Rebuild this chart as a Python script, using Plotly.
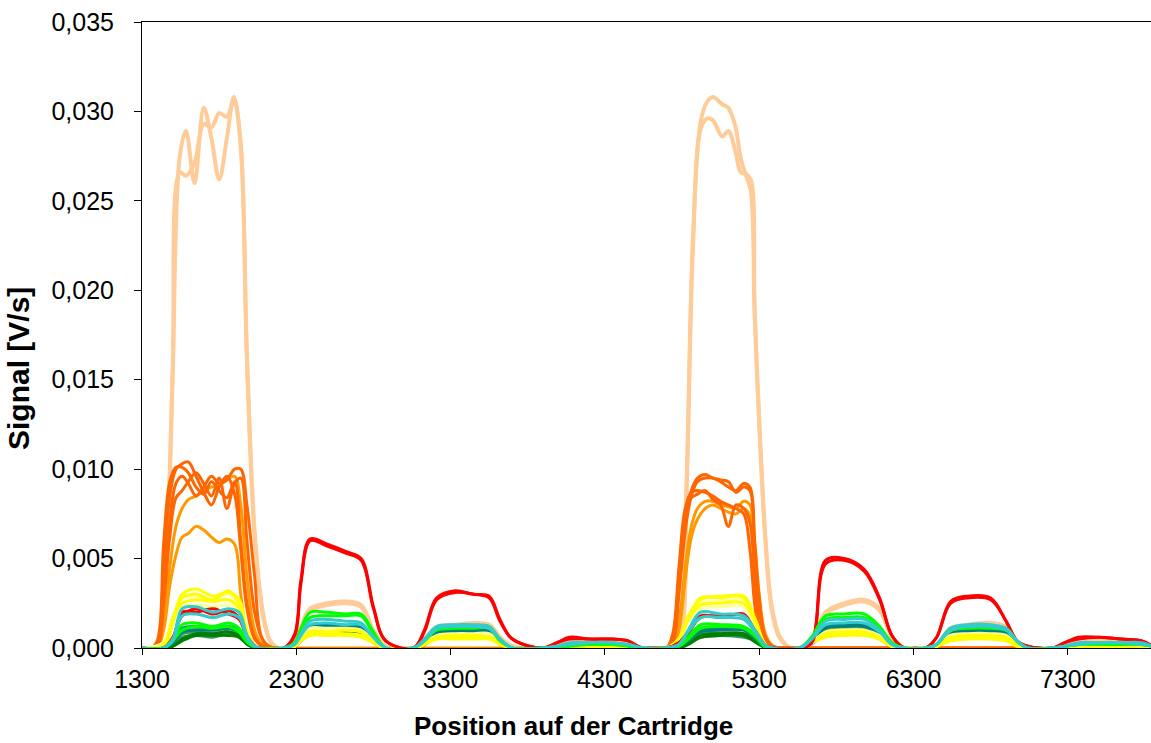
import plotly.graph_objects as go

# ---------------- data (signal values in units of 1e-4 V/s) ----------------
UNIT = 1e-4

# shared position grid for the low-level series (8 measuring spots)
X_LOW = [
    1300, 1440, 1500, 1560, 1650, 1760, 1860, 1930, 1985, 2050,
    2220, 2290, 2330, 2390, 2500, 2620, 2720, 2800, 2880,
    3060, 3130, 3210, 3330, 3450, 3550, 3620, 3700,
    3900, 3990, 4070, 4200, 4350, 4450, 4540,
    4700, 4780, 4840, 4920, 5050, 5200, 5280, 5350,
    5560, 5640, 5730, 5850, 5980, 6080, 6160, 6240,
    6380, 6450, 6540, 6650, 6800, 6900, 6970, 7040,
    7200, 7280, 7370, 7500, 7650, 7780, 7850]

X_PEACH = [
    1300, 1380, 1430, 1470, 1500, 1545, 1585, 1640, 1700, 1750, 1800, 1850, 1895, 1940, 1980, 2030, 2080, 2130, 2180,
    2220, 2290, 2330, 2390, 2500, 2620, 2720, 2800, 2880,
    3060, 3130, 3210, 3330, 3450, 3550, 3620, 3700,
    3900, 3990, 4070, 4200, 4350, 4450, 4540,
    4680, 4740, 4790, 4830, 4870, 4920, 4960, 5000, 5060, 5100, 5145, 5180, 5215, 5245, 5270, 5300, 5340, 5380, 5430, 5500,
    5560, 5640, 5730, 5850, 5980, 6080, 6160, 6240,
    6380, 6450, 6540, 6650, 6800, 6900, 6970, 7040,
    7200, 7280, 7370, 7500, 7650, 7780, 7850]

X_ORANGE = [
    1300, 1360, 1400, 1440, 1480, 1520, 1560, 1600, 1650, 1700, 1750, 1800, 1850, 1900, 1940, 1980, 2030, 2080, 2150,
    4650,
    4700, 4740, 4780, 4820, 4860, 4900, 4950, 5000, 5050, 5100, 5150, 5200, 5240, 5270, 5300, 5340, 5390, 5450,
    7850]

PEACH_A = [
    0, 1, 18, 75, 160, 275, 289, 260, 302, 285, 262, 285, 308, 282, 165, 65, 22, 4, 0,
    0, 3, 12, 22, 25, 26, 24, 10, 1,
    0, 5, 12, 13, 14, 13, 6, 1,
    0, 2, 4, 4, 4, 3, 0,
    0, 1, 8, 95, 228, 294, 305, 308, 304, 302, 292, 274, 264, 256, 188, 125, 60, 22, 6, 0,
    0, 4, 20, 25, 27, 22, 6, 0,
    0, 2, 11, 13, 14, 12, 4, 0,
    0, 1, 4, 4, 4, 3, 1]
PEACH_B = [
    0, 1, 14, 70, 155, 266, 264, 271, 293, 291, 299, 297, 306, 280, 160, 62, 20, 4, 0,
    0, 3, 11, 21, 24, 25, 23, 9, 1,
    0, 5, 11, 12, 13, 13, 6, 1,
    0, 2, 4, 4, 4, 3, 0,
    0, 1, 7, 90, 222, 290, 296, 295, 286, 289, 278, 266, 265, 262, 190, 128, 62, 24, 7, 0,
    0, 4, 19, 24, 26, 21, 6, 0,
    0, 2, 10, 12, 13, 12, 4, 0,
    0, 1, 3, 4, 4, 3, 1]

DORANGE_A = [0, 0, 4, 58, 93, 101, 101, 98, 90, 86, 93, 88, 84, 93, 60, 25, 6, 1, 0, 0,
             0, 5, 35, 70, 88, 95, 97, 95, 94, 93, 87, 90, 88, 55, 22, 5, 0, 0, 0]
DORANGE_B = [0, 0, 2, 45, 85, 100, 103, 104, 96, 87, 80, 90, 96, 86, 55, 22, 5, 1, 0, 0,
             0, 8, 45, 78, 87, 88, 87, 85, 82, 80, 78, 75, 55, 25, 8, 1, 0, 0, 0]
DORANGE_C = [0, 0, 1, 30, 70, 92, 96, 92, 85, 90, 96, 92, 94, 100, 100, 80, 40, 5, 0, 0,
             0, 3, 30, 65, 85, 93, 95, 95, 93, 90, 88, 92, 90, 60, 28, 6, 1, 0, 0]
DORANGE_D = [0, 0, 1, 25, 62, 84, 88, 93, 98, 92, 85, 95, 78, 92, 95, 60, 20, 5, 0, 0,
             0, 6, 40, 72, 84, 86, 88, 83, 80, 68, 80, 78, 70, 40, 12, 2, 0, 0, 0]
ORANGE_A = [0, 0, 1, 15, 45, 68, 78, 83, 85, 88, 90, 91, 94, 96, 80, 40, 10, 2, 0, 0,
            0, 2, 15, 45, 68, 78, 82, 82, 80, 79, 78, 82, 80, 60, 30, 8, 1, 0, 0]
ORANGE_B = [0, 0, 0, 10, 35, 52, 62, 64, 68, 66, 62, 59, 61, 58, 30, 8, 1, 0, 0, 0,
            0, 1, 10, 38, 62, 72, 78, 80, 78, 76, 75, 78, 74, 55, 25, 6, 1, 0, 0]

RED_A = [0, 0, 6, 18, 22, 19, 21, 17, 6, 0,
         0, 8, 38, 61, 58, 54, 50, 23, 4,
         0, 10, 28, 32, 30, 29, 16, 5,
         0, 3, 6, 5, 5, 4, 0,
         0, 3, 9, 17, 18, 18, 9, 1,
         0, 3, 49, 50, 44, 28, 7, 0,
         0, 6, 26, 29, 28, 15, 4, 1,
         0, 3, 6, 6, 5, 4, 1]
RED_B = [0, 0, 5, 20, 20, 22, 19, 16, 5, 0,
         0, 7, 36, 60, 57, 53, 49, 22, 4,
         0, 9, 27, 31, 30, 28, 15, 5,
         0, 3, 5, 5, 5, 4, 0,
         0, 3, 8, 18, 17, 19, 8, 1,
         0, 3, 47, 49, 43, 27, 7, 0,
         0, 6, 25, 28, 27, 15, 4, 1,
         0, 3, 5, 6, 5, 4, 1]

YELLOW_A = [0, 0, 14, 30, 33, 29, 31, 27, 9, 0,
            0, 1, 5, 9, 9, 10, 9, 4, 0,
            0, 3, 6, 7, 7, 6, 3, 0,
            0, 1, 2, 2, 2, 1, 0,
            0, 4, 16, 28, 28, 29, 14, 1,
            0, 3, 8, 9, 9, 6, 1, 0,
            0, 1, 6, 7, 7, 6, 2, 0,
            0, 0, 1, 1, 1, 1, 0]
YELLOW_B = [0, 1, 16, 28, 30, 27, 32, 25, 8, 0,
            0, 1, 4, 8, 8, 8, 7, 3, 0,
            0, 2, 5, 6, 6, 6, 3, 0,
            0, 0, 1, 1, 1, 1, 0,
            0, 5, 18, 27, 29, 28, 15, 1,
            0, 3, 7, 8, 8, 5, 1, 0,
            0, 1, 5, 6, 6, 5, 2, 0,
            0, 0, 1, 1, 1, 1, 0]
YELLOW_C = [0, 2, 17, 25, 27, 26, 27, 22, 7, 0,
            0, 1, 4, 7, 7, 7, 6, 3, 0,
            0, 2, 5, 5, 5, 5, 2, 0,
            0, 0, 1, 1, 1, 1, 0,
            0, 5, 16, 24, 25, 25, 13, 1,
            0, 3, 6, 7, 7, 5, 1, 0,
            0, 1, 4, 5, 5, 4, 1, 0,
            0, 0, 1, 1, 1, 1, 0]
LYELLOW_A = [0, 3, 18, 28, 29, 27, 30, 24, 8, 0,
             0, 1, 5, 11, 11, 11, 10, 4, 0,
             0, 3, 7, 8, 8, 8, 3, 0,
             0, 1, 2, 3, 3, 2, 0,
             0, 5, 17, 25, 26, 27, 14, 1,
             0, 3, 9, 10, 10, 7, 1, 0,
             0, 1, 7, 8, 8, 7, 2, 0,
             0, 0, 2, 2, 2, 2, 0]
LYELLOW_B = [0, 3, 16, 23, 24, 23, 24, 20, 7, 0,
             0, 1, 5, 10, 10, 10, 9, 4, 0,
             0, 3, 6, 7, 7, 7, 3, 0,
             0, 1, 2, 2, 2, 2, 0,
             0, 5, 15, 22, 23, 23, 12, 1,
             0, 3, 8, 9, 9, 6, 1, 0,
             0, 1, 6, 7, 7, 6, 2, 0,
             0, 0, 1, 2, 2, 1, 0]

CYAN_A = [0, 0, 5, 22, 23, 20, 22, 20, 6, 0,
          0, 2, 8, 15, 16, 15, 14, 6, 0,
          0, 5, 12, 13, 13, 12, 5, 0,
          0, 1, 3, 3, 3, 2, 0,
          0, 2, 10, 20, 19, 18, 9, 1,
          0, 5, 15, 16, 16, 10, 2, 0,
          0, 2, 11, 13, 13, 11, 4, 0,
          0, 1, 3, 3, 3, 3, 1]
CYAN_B = [0, 0, 4, 18, 19, 17, 19, 17, 5, 0,
          0, 2, 7, 13, 14, 13, 13, 6, 0,
          0, 4, 11, 12, 12, 11, 5, 0,
          0, 1, 2, 3, 3, 2, 0,
          0, 2, 9, 17, 17, 16, 8, 1,
          0, 5, 13, 14, 14, 9, 2, 0,
          0, 2, 10, 12, 12, 10, 4, 0,
          0, 1, 2, 3, 3, 2, 1]
GREEN_A = [0, 0, 5, 13, 14, 12, 14, 11, 3, 0,
           0, 3, 11, 20, 20, 19, 19, 9, 0,
           0, 4, 11, 12, 12, 12, 5, 0,
           0, 0, 2, 2, 2, 2, 0,
           0, 1, 6, 13, 13, 12, 7, 0,
           0, 6, 18, 19, 19, 12, 3, 0,
           0, 2, 11, 12, 12, 11, 4, 0,
           0, 1, 2, 2, 2, 2, 1]
GREEN_B = [0, 0, 4, 10, 12, 11, 12, 9, 3, 0,
           0, 3, 10, 17, 18, 18, 18, 8, 0,
           0, 4, 10, 11, 11, 11, 4, 0,
           0, 0, 1, 2, 2, 1, 0,
           0, 1, 5, 11, 12, 11, 6, 0,
           0, 6, 16, 17, 17, 11, 3, 0,
           0, 2, 10, 11, 11, 10, 4, 0,
           0, 1, 2, 2, 2, 2, 1]
TEAL_A = [0, 0, 4, 11, 12, 11, 12, 10, 3, 0,
          0, 2, 7, 12, 13, 12, 12, 6, 0,
          0, 3, 9, 10, 10, 10, 4, 0,
          0, 0, 1, 2, 2, 1, 0,
          0, 1, 5, 10, 11, 11, 6, 0,
          0, 4, 12, 13, 13, 8, 2, 0,
          0, 2, 9, 10, 10, 9, 3, 0,
          0, 0, 2, 2, 2, 2, 0]
TEAL_B = [0, 0, 3, 9, 10, 10, 11, 9, 3, 0,
          0, 2, 6, 11, 12, 11, 11, 5, 0,
          0, 3, 8, 9, 9, 9, 4, 0,
          0, 0, 1, 2, 2, 1, 0,
          0, 1, 4, 9, 10, 10, 5, 0,
          0, 4, 11, 12, 12, 8, 2, 0,
          0, 2, 8, 9, 9, 8, 3, 0,
          0, 0, 1, 2, 2, 1, 0]
DKGREEN_A = [0, 0, 1, 5, 8, 8, 9, 7, 2, 0,
             0, 1, 5, 9, 10, 10, 9, 4, 0,
             0, 2, 7, 8, 8, 8, 3, 0,
             0, 0, 1, 1, 1, 1, 0,
             0, 0, 3, 7, 8, 8, 4, 0,
             0, 3, 9, 10, 10, 6, 1, 0,
             0, 1, 7, 8, 8, 7, 2, 0,
             0, 0, 1, 1, 1, 1, 0]
DKGREEN_B = [0, 0, 1, 4, 7, 7, 7, 6, 2, 0,
             0, 1, 4, 8, 9, 9, 8, 4, 0,
             0, 2, 6, 7, 7, 7, 3, 0,
             0, 0, 1, 1, 1, 1, 0,
             0, 0, 2, 6, 7, 7, 3, 0,
             0, 3, 8, 9, 9, 6, 1, 0,
             0, 1, 6, 7, 7, 6, 2, 0,
             0, 0, 1, 1, 1, 1, 0]
SEAGREEN_A = [0, 0, 2, 6, 7, 6, 8, 6, 2, 0,
              0, 1, 4, 8, 8, 8, 7, 3, 0,
              0, 2, 6, 7, 7, 7, 3, 0,
              0, 0, 1, 1, 1, 1, 0,
              0, 0, 3, 6, 7, 6, 4, 0,
              0, 3, 8, 8, 8, 5, 1, 0,
              0, 1, 6, 7, 7, 6, 2, 0,
              0, 0, 1, 1, 1, 1, 0]
SEAGREEN_B = [0, 0, 2, 8, 9, 8, 9, 7, 2, 0,
              0, 1, 5, 10, 10, 9, 9, 4, 0,
              0, 2, 7, 8, 8, 8, 3, 0,
              0, 0, 1, 1, 1, 1, 0,
              0, 0, 3, 8, 8, 8, 4, 0,
              0, 3, 9, 10, 9, 6, 1, 0,
              0, 1, 7, 8, 8, 7, 2, 0,
              0, 0, 1, 1, 1, 1, 0]
OLIVE = [0, 0, 4, 10, 11, 10, 11, 9, 3, 0,
         0, 1, 6, 11, 11, 11, 10, 5, 0,
         0, 3, 8, 9, 9, 9, 3, 0,
         0, 0, 1, 1, 1, 1, 0,
         0, 1, 4, 9, 10, 10, 5, 0,
         0, 3, 10, 11, 11, 7, 2, 0,
         0, 1, 8, 9, 9, 8, 3, 0,
         0, 0, 1, 1, 1, 1, 0]
LAVENDER = [0, 0, 3, 8, 10, 9, 10, 8, 2, 0,
            0, 1, 4, 8, 9, 8, 8, 3, 0,
            0, 2, 6, 7, 7, 6, 2, 0,
            0, 1, 2, 2, 2, 1, 0,
            0, 1, 4, 8, 9, 8, 4, 0,
            0, 2, 8, 9, 9, 6, 1, 0,
            0, 1, 6, 7, 7, 6, 2, 0,
            0, 1, 1, 1, 1, 1, 0]

X_TICKS = [1300, 2300, 3300, 4300, 5300, 6300, 7300]
Y_TICKS = [0.000, 0.005, 0.010, 0.015, 0.020, 0.025, 0.030, 0.035]
X_TITLE = "Position auf der Cartridge"
Y_TITLE = "Signal [V/s]"

# ---------------- figure ----------------
FONT = "Liberation Sans, Arial, sans-serif"

series = [
    (X_LOW, LAVENDER, "#CC99FF", 3),
    (X_LOW, SEAGREEN_A, "#339966", 3),
    (X_LOW, SEAGREEN_B, "#339966", 3),
    (X_LOW, DKGREEN_A, "#008000", 3),
    (X_LOW, DKGREEN_B, "#008000", 3),
    (X_LOW, OLIVE, "#99CC00", 3),
    (X_LOW, TEAL_A, "#008080", 3),
    (X_LOW, TEAL_B, "#008080", 3),
    (X_PEACH, PEACH_A, "#FFCC99", 4),
    (X_PEACH, PEACH_B, "#FFCC99", 4),
    (X_ORANGE, ORANGE_A, "#FF9900", 3),
    (X_ORANGE, ORANGE_B, "#FF9900", 3),
    (X_ORANGE, DORANGE_A, "#FF6600", 3),
    (X_ORANGE, DORANGE_B, "#FF6600", 3),
    (X_ORANGE, DORANGE_C, "#FF6600", 3),
    (X_ORANGE, DORANGE_D, "#FF6600", 3),
    (X_LOW, LYELLOW_A, "#FFFF99", 3),
    (X_LOW, LYELLOW_B, "#FFFF99", 3),
    (X_LOW, YELLOW_A, "#FFFF00", 3),
    (X_LOW, YELLOW_B, "#FFFF00", 3),
    (X_LOW, YELLOW_C, "#FFFF00", 3),
    (X_LOW, RED_A, "#FF0000", 3),
    (X_LOW, RED_B, "#FF0000", 3),
    (X_LOW, GREEN_A, "#00FF00", 3),
    (X_LOW, GREEN_B, "#00FF00", 3),
    (X_LOW, CYAN_A, "#33CCCC", 3),
    (X_LOW, CYAN_B, "#33CCCC", 3),
]

fig = go.Figure()
for xs, vals, color, width in series:
    fig.add_trace(go.Scatter(
        x=xs, y=[v * UNIT for v in vals], mode="lines",
        line=dict(color=color, width=width, shape="spline", smoothing=1.0),
        showlegend=False, hoverinfo="skip"))

# full-window figure (page body margin is removed below)
W, H = 1151, 743
L, R, T, B = 142, 0, 22, H - 648
x_max = 1300 + (W - L - R) / 0.1543

fig.update_layout(
    width=W, height=H,
    margin=dict(l=L, r=R, t=T, b=B, pad=0),
    paper_bgcolor="white", plot_bgcolor="white",
    separators=",.",
    font=dict(family=FONT, color="black", size=25),
    xaxis=dict(range=[1300, x_max], tickvals=X_TICKS, ticktext=[str(v) for v in X_TICKS],
               showline=True, linecolor="black", linewidth=1, mirror=True,
               ticks="outside", ticklen=6, tickcolor="black", tickwidth=1,
               ticklabelstandoff=3, ticklabeloverflow="allow",
               showgrid=False, zeroline=False, tickfont=dict(size=25, family=FONT)),
    yaxis=dict(range=[0, 0.035], tickvals=Y_TICKS, tickformat=".3f",
               showline=True, linecolor="black", linewidth=1,
               ticks="outside", ticklen=7, tickcolor="black", tickwidth=1,
               ticklabelstandoff=15, ticklabeloverflow="allow",
               showgrid=False, zeroline=False, tickfont=dict(size=25, family=FONT)),
    annotations=[
        dict(text="<b>%s</b>" % X_TITLE, xref="paper", yref="paper",
             x=(573 - L) / (W - L - R), y=(H - B - 726) / (H - T - B),
             xanchor="center", yanchor="middle", showarrow=False,
             font=dict(size=26, family=FONT, color="black")),
        dict(text="<b>%s</b>" % Y_TITLE, xref="paper", yref="paper",
             x=(19 - L) / (W - L - R), y=(H - B - 369) / (H - T - B),
             xanchor="center", yanchor="middle", textangle=-90, showarrow=False,
             font=dict(size=30, family=FONT, color="black")),
    ],
)

fig.write_html("out.html",
               config={"displayModeBar": False},
               post_script="document.body.style.margin='0px';document.body.style.overflow='hidden';")
